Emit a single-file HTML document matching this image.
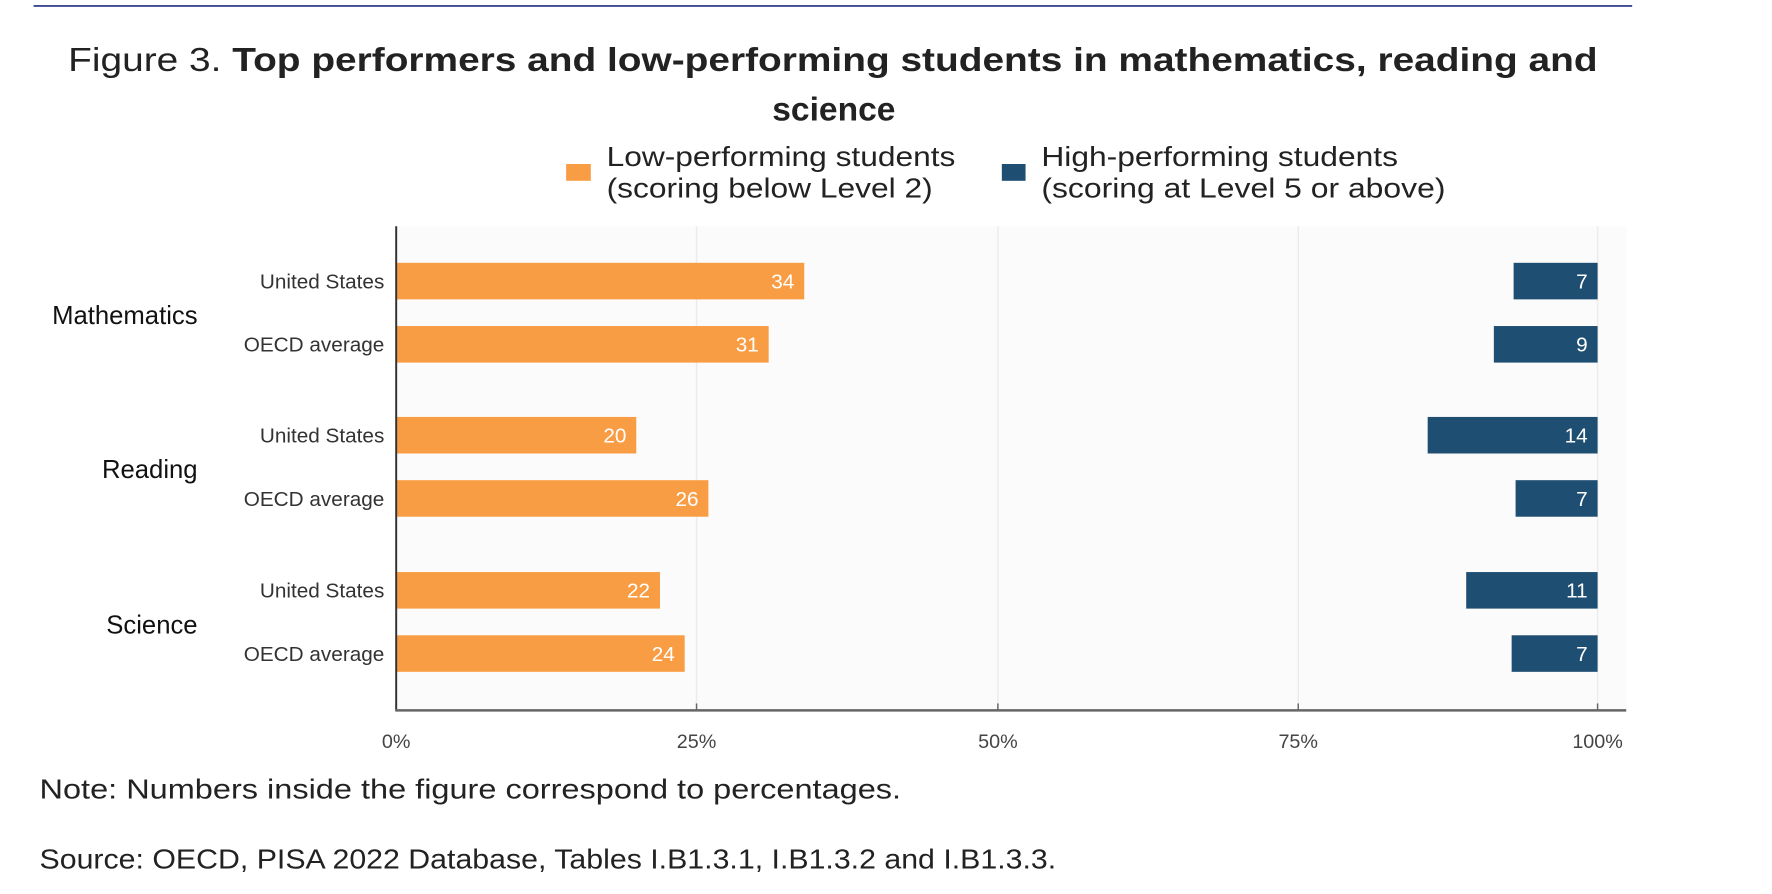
<!DOCTYPE html>
<html><head><meta charset="utf-8"><style>
html,body{margin:0;padding:0;background:#fff;}
svg{display:block;font-family:"Liberation Sans",Arial,sans-serif;}
</style></head><body>
<svg width="1772" height="894" viewBox="0 0 1772 894" xmlns="http://www.w3.org/2000/svg">
<rect width="1772" height="894" fill="#fff"/>
<g transform="scale(0.988)">
<line x1="34" y1="6" x2="1652" y2="6" stroke="#3b4a8f" stroke-width="2"/>
<text x="69" y="72" font-size="34" fill="#222" textLength="1548" lengthAdjust="spacingAndGlyphs">Figure 3. <tspan font-weight="bold">Top performers and low-performing students in mathematics, reading and</tspan></text>
<text x="844" y="122" font-size="34" fill="#222" font-weight="bold" text-anchor="middle">science</text>
<rect x="573" y="166" width="25" height="17" fill="#f99d45"/>
<text x="614" y="168" font-size="28" fill="#222" textLength="353" lengthAdjust="spacingAndGlyphs">Low-performing students</text>
<text x="614" y="200" font-size="28" fill="#222" textLength="330" lengthAdjust="spacingAndGlyphs">(scoring below Level 2)</text>
<rect x="1014" y="166" width="24" height="17" fill="#1f4e73"/>
<text x="1054" y="168" font-size="28" fill="#222" textLength="361" lengthAdjust="spacingAndGlyphs">High-performing students</text>
<text x="1054" y="200" font-size="28" fill="#222" textLength="409" lengthAdjust="spacingAndGlyphs">(scoring at Level 5 or above)</text>
<rect x="401" y="229" width="1245" height="490" fill="#fbfbfb"/>
<g stroke="#ececec" stroke-width="1.5">
<line x1="705" y1="229" x2="705" y2="719"/><line x1="1010" y1="229" x2="1010" y2="719"/>
<line x1="1314" y1="229" x2="1314" y2="719"/><line x1="1617" y1="229" x2="1617" y2="719"/>
</g>
<g fill="#f99d45">
<rect x="401" y="266" width="413" height="37"/>
<rect x="401" y="330" width="377" height="37"/>
<rect x="401" y="422" width="243" height="37"/>
<rect x="401" y="486" width="316" height="37"/>
<rect x="401" y="579" width="267" height="37"/>
<rect x="401" y="643" width="292" height="37"/>
</g>
<g fill="#1f4e73">
<rect x="1532" y="266" width="85" height="37"/>
<rect x="1512" y="330" width="105" height="37"/>
<rect x="1445" y="422" width="172" height="37"/>
<rect x="1534" y="486" width="83" height="37"/>
<rect x="1484" y="579" width="133" height="37"/>
<rect x="1530" y="643" width="87" height="37"/>
</g>
<g fill="#fff" font-size="21" text-anchor="end">
<text x="804" y="292">34</text><text x="768" y="356">31</text><text x="634" y="448">20</text>
<text x="707" y="512">26</text><text x="658" y="605">22</text><text x="683" y="669">24</text>
<text x="1607" y="292">7</text><text x="1607" y="356">9</text><text x="1607" y="448">14</text>
<text x="1607" y="512">7</text><text x="1607" y="605">11</text><text x="1607" y="669">7</text>
</g>
<line x1="401" y1="229" x2="401" y2="719" stroke="#333" stroke-width="2"/>
<line x1="400" y1="719" x2="1646" y2="719" stroke="#666" stroke-width="2.5"/>
<g stroke="#666" stroke-width="1.5">
<line x1="705" y1="712" x2="705" y2="719"/><line x1="1010" y1="712" x2="1010" y2="719"/>
<line x1="1314" y1="712" x2="1314" y2="719"/><line x1="1617" y1="712" x2="1617" y2="719"/>
</g>
<g fill="#444" font-size="20" text-anchor="middle">
<text x="401" y="757">0%</text><text x="705" y="757">25%</text><text x="1010" y="757">50%</text>
<text x="1314" y="757">75%</text><text x="1617" y="757">100%</text>
</g>
<g fill="#333" font-size="21" text-anchor="end">
<text x="389" y="292">United States</text><text x="389" y="356">OECD average</text>
<text x="389" y="448">United States</text><text x="389" y="512">OECD average</text>
<text x="389" y="605">United States</text><text x="389" y="669">OECD average</text>
</g>
<g fill="#111" font-size="26" text-anchor="end">
<text x="200" y="328">Mathematics</text><text x="200" y="484">Reading</text><text x="200" y="641">Science</text>
</g>
<text x="40" y="808" font-size="28" fill="#222" textLength="872" lengthAdjust="spacingAndGlyphs">Note: Numbers inside the figure correspond to percentages.</text>
<text x="40" y="879" font-size="28" fill="#222" textLength="1029" lengthAdjust="spacingAndGlyphs">Source: OECD, PISA 2022 Database, Tables I.B1.3.1, I.B1.3.2 and I.B1.3.3.</text>
</g>
</svg>
</body></html>
